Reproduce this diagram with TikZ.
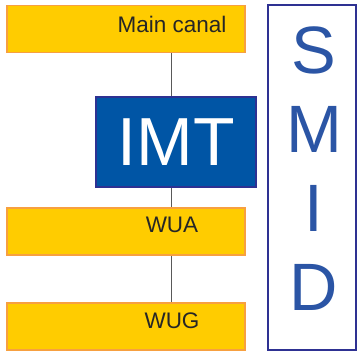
\documentclass[tikz,border=0pt]{standalone}
\usepackage{fontspec}
\setmainfont{Liberation Sans}
\usepackage{tikz}
\definecolor{boxyellow}{HTML}{FFCC00}
\definecolor{boxorange}{HTML}{F7A040}
\definecolor{imtblue}{HTML}{0055A5}
\definecolor{navy}{HTML}{2E3192}
\definecolor{smidblue}{HTML}{2B55A5}
\tikzset{
LEVEL/.style ={draw=boxorange,fill=boxyellow,line width=1.5pt,minimum width=238pt,minimum height=47pt,inner sep=0pt},
LEVELTEXT/.style ={text=black!85,font=\fontsize{22.5}{26}\selectfont,inner sep=0pt},
LINK/.style ={draw=black!65,line width=0.8pt},
}

\begin{document}
\begin{tikzpicture}
[x=1pt,y=-1pt]
	\useasboundingbox (0,0) rectangle (358,351); %Page
	%Levels
	\node[LEVEL] (canal) at (126,29) {};
	\node[LEVEL] (wua) at (126,231.5) {};
	\node[LEVEL] (wug) at (126,326.5) {};
	\node[LEVELTEXT] (canaltext) at (172,24) {Main canal};
	\node[LEVELTEXT] (wuatext) at (172,225) {WUA};
	\node[LEVELTEXT] (wugtext) at (172,320.5) {WUG};
	%IMT
	\node[draw=navy,fill=imtblue,line width=1.5pt,minimum width=160pt,minimum height=90pt,inner sep=0pt,
		text=white,font=\fontsize{68}{70}\selectfont] (imt) at (176,142) {IMT};
	%Links
	\coordinate (axis) at (171,0);
	\path[LINK] (canal.south -| axis) -- (imt.north -| axis);
	\path[LINK] (imt.south -| axis) -- (wua.north -| axis);
	\path[LINK] (wua.south -| axis) -- (wug.north -| axis);
	%SMID
	\node[draw=navy,fill=white,line width=1.5pt,minimum width=88pt,minimum height=345pt,inner sep=0pt] (smid) at (312,177.5) {};
	\node[text=smidblue,align=center,inner sep=0pt,font=\fontsize{67}{79}\selectfont] (smidtext) at (314,169) {S\\M\\I\\D};
\end{tikzpicture}
\end{document}
